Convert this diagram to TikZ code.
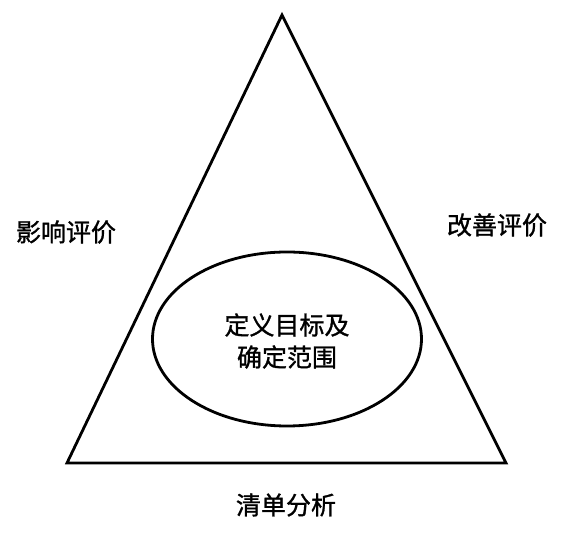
\documentclass[tikz,border=0pt]{standalone}
\usepackage{fontspec}
\newfontfamily\cjk[FakeBold=1.2]{Noto Sans CJK SC}
\usetikzlibrary{shapes.geometric}
\begin{document}
\begin{tikzpicture}[x=1pt,y=-1pt,
  edge/.style={line width=2.8pt,line join=miter},
  lbl/.style={font=\cjk\fontsize{25}{32}\selectfont,inner sep=0pt,align=center}]
\useasboundingbox[fill=white] (0,0) rectangle (566,534);
\coordinate (A) at (282,15);
\coordinate (B) at (67,463);
\coordinate (C) at (506,463);
\draw[edge] (A) -- (B) -- (C) -- cycle;
\node[draw,ellipse,line width=2.8pt,minimum width=269pt,minimum height=174pt,inner sep=0pt] (core) at (287,339) {};
\node[lbl] (goal) at (287,341) {定义目标及\\确定范围};
\node[lbl] (impact) at (66,232) {影响评价};
\node[lbl] (improve) at (497,225) {改善评价};
\node[lbl] (inventory) at (286,505) {清单分析};
\end{tikzpicture}
\end{document}
